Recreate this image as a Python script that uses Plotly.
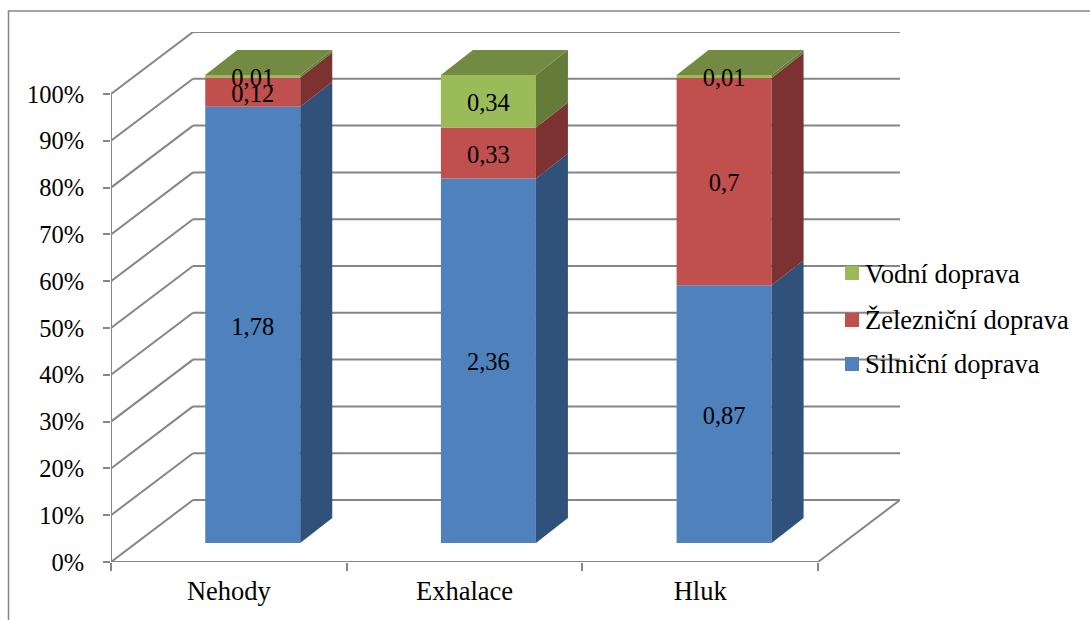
import plotly.graph_objects as go

categories = ["Nehody", "Exhalace", "Hluk"]
silnicni = [1.78, 2.36, 0.87]
zeleznicni = [0.12, 0.33, 0.70]
vodni = [0.01, 0.34, 0.01]
series_names = ["Silniční doprava", "Železniční doprava", "Vodní doprava"]
percent_ticks = [0, 0.1, 0.2, 0.3, 0.4, 0.5, 0.6, 0.7, 0.8, 0.9, 1.0]

front_colors = ["#4F81BD", "#C0504D", "#9BBB59"]
side_colors = ["#30527A", "#7B3230", "#657B39"]
top_color = "#728A41"
line_color = "#868686"
FONT = "Liberation Serif"
FS_TEXT = 26.5
FS_NUM = 24.5

# page geometry in pixels
W, H = 1090, 620
L, R, T, B = 111, 900, 32, 562
unit_x = (818 - L) / 3
unit_y = (B - 94) / 1.0
xmax = (R - L) / unit_x
ymax = (B - T) / unit_y
wall_dx = (R - 818) / unit_x     # projection depth of the walls
wall_dy = 62 / unit_y
bar_dx = 32 / unit_x             # projection depth of the bars
bar_dy = 25 / unit_y
bar_shift = 0.1015
bar_base = 19 / unit_y
bar_w = 95 / unit_x
label_drop = 3.5 / unit_y

def px(x):
    return (x - L) / (R - L)

def py(y):
    return (B - y) / (B - T)

fig = go.Figure()
series = [silnicni, zeleznicni, vodni]
totals = [sum(s[i] for s in series) for i in range(len(categories))]
centers = [i + 0.5 + bar_shift for i in range(len(categories))]

# front faces + cumulative fractions
cum = [0.0] * len(categories)
layers = []
for k, s in enumerate(series):
    frac = [v / t for v, t in zip(s, totals)]
    bases = [c + bar_base for c in cum]
    layers.append((bases, frac))
    fig.add_trace(go.Bar(
        x=centers, y=frac, base=bases, width=bar_w, name=series_names[k],
        marker=dict(color=front_colors[k], line=dict(width=0)),
        hovertext=[str(v).replace(".", ",") for v in s], hoverinfo="text+name",
        showlegend=False,
    ))
    cum = [c + f for c, f in zip(cum, frac)]

# side faces
for k, (bases, frac) in enumerate(layers):
    for xc, b, f in zip(centers, bases, frac):
        xr = xc + bar_w / 2
        fig.add_trace(go.Scatter(
            x=[xr, xr + bar_dx, xr + bar_dx, xr, xr],
            y=[b, b + bar_dy, b + f + bar_dy, b + f, b],
            mode="lines", fill="toself", fillcolor=side_colors[k],
            line=dict(width=0), hoverinfo="skip", showlegend=False,
        ))

# top faces
for xc, c in zip(centers, cum):
    top = c + bar_base
    xl = xc - bar_w / 2
    xr = xc + bar_w / 2
    fig.add_trace(go.Scatter(
        x=[xl, xr, xr + bar_dx, xl + bar_dx, xl],
        y=[top, top, top + bar_dy, top + bar_dy, top],
        mode="lines", fill="toself", fillcolor=top_color,
        line=dict(width=0), hoverinfo="skip", showlegend=False,
    ))

# data labels
for k, (bases, frac) in enumerate(layers):
    fig.add_trace(go.Scatter(
        x=centers, y=[b + f / 2 - label_drop for b, f in zip(bases, frac)],
        mode="text", text=[str(v).replace(".", ",") for v in series[k]],
        textposition="middle center",
        textfont=dict(family=FONT, size=FS_NUM, color="black"),
        hoverinfo="skip", showlegend=False, cliponaxis=False,
    ))

shapes = []
line = dict(color=line_color, width=2)
# walls: back and side gridlines
for t in percent_ticks:
    shapes.append(dict(type="line", xref="x", yref="y", layer="below", line=line,
                       x0=wall_dx, x1=xmax, y0=t + wall_dy, y1=t + wall_dy))
    shapes.append(dict(type="line", xref="x", yref="y", layer="below", line=line,
                       x0=0, x1=wall_dx, y0=t, y1=t + wall_dy))
# floor edges + axes
n = len(categories)
shapes.append(dict(type="line", xref="x", yref="y", layer="below", line=line,
                   x0=n, x1=xmax, y0=0, y1=wall_dy))
shapes.append(dict(type="line", xref="x", yref="y", layer="below", line=line,
                   x0=0, x1=n, y0=0, y1=0))
shapes.append(dict(type="line", xref="x", yref="y", layer="below", line=line,
                   x0=0, x1=0, y0=0, y1=1))
# outer frame
shapes.append(dict(type="path", xref="paper", yref="paper", layer="below",
                   line=dict(color=line_color, width=1.5),
                   path=f"M {px(8.5)} {py(H + 2)} L {px(8.5)} {py(11)} L {px(W + 2)} {py(11)}"))

# legend key
annotations = []
legend_y = [364, 320, 273]
for k, yc in enumerate(legend_y):
    shapes.append(dict(type="rect", xref="paper", yref="paper", layer="above",
                       x0=px(845), x1=px(859), y0=py(yc + 7), y1=py(yc - 7),
                       fillcolor=front_colors[k], line=dict(width=0)))
    annotations.append(dict(xref="paper", yref="paper", x=px(864), y=py(yc + (1 if k == 2 else 0)),
                            xanchor="left", yanchor="middle", showarrow=False,
                            text=series_names[k], borderpad=0,
                            font=dict(family=FONT, size=FS_TEXT, color="black")))

fig.update_layout(
    width=W, height=H, autosize=False,
    margin=dict(l=L, r=W - R, t=T, b=H - B, pad=0),
    plot_bgcolor="white", paper_bgcolor="white",
    barmode="overlay", showlegend=False,
    shapes=shapes, annotations=annotations,
    font=dict(family=FONT, size=FS_TEXT, color="black"),
    xaxis=dict(
        range=[0, xmax], showgrid=False, zeroline=False, showline=False,
        tickmode="array", tickvals=[i + 0.5 for i in range(n)], ticktext=categories,
        ticks="", ticklabelstandoff=10, tickfont=dict(family=FONT, size=FS_TEXT),
        minor=dict(tickmode="array", tickvals=list(range(n + 1)), ticks="outside",
                   ticklen=8, tickwidth=2, tickcolor=line_color, showgrid=False),
        fixedrange=True,
    ),
    yaxis=dict(
        range=[0, ymax], showgrid=False, zeroline=False, showline=False,
        tickmode="array", tickvals=percent_ticks, tickformat=".0%",
        ticks="outside", ticklen=7, tickwidth=2, tickcolor=line_color,
        ticklabelstandoff=14, tickfont=dict(family=FONT, size=FS_NUM),
        fixedrange=True,
    ),
)

fig.write_html(
    "out.html", config={"displayModeBar": False},
    post_script="document.body.style.margin='0';document.body.style.overflow='hidden';",
)
